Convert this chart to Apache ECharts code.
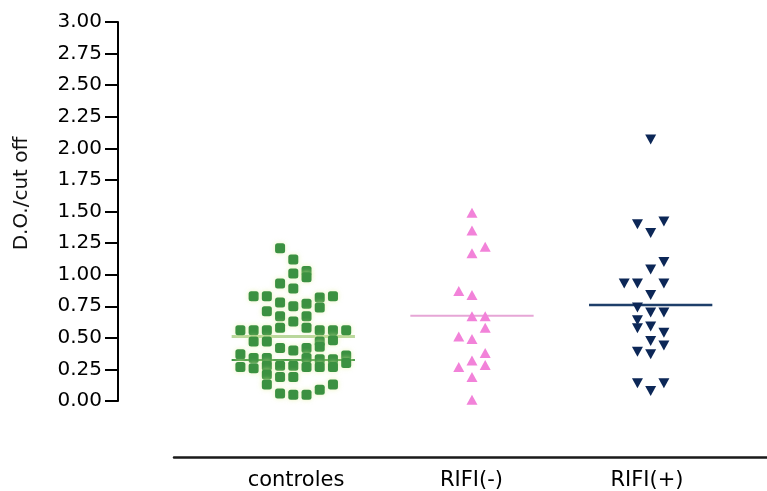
<!DOCTYPE html>
<html>
<head>
<meta charset="utf-8">
<script src="https://cdn.jsdelivr.net/npm/echarts@6/dist/echarts.min.js"></script>
<style>
  html, body { margin: 0; padding: 0; background: #fff; }
  #chart-container { width: 767px; height: 491px; }
</style>
</head>
<body>
<div id="chart-container"></div>
<script>
var categories = ['controles', 'RIFI(-)', 'RIFI(+)'];

// column offset of each point inside its group (dot-plot stacking) and its value
var controlesCols = [-1, 0, 1, 1, 0, -1, 0, -3, -2, 2, 3, -1, 0, 1, 2, -2, -1, 1, 0, -1, 1,
    -4, -3, -2, 2, 3, 4, -3, -2, 2, 3, -1, 0, 1, 2, -4, 4, -3, -2, 1, 2, 3, 4,
    -4, -3, -2, -1, 0, 1, 2, 3, -2, -1, 0, -2, 3, 2, -1, 0, 1];
var controlesValues = [1.21, 1.12, 1.03, 0.98, 1.01, 0.93, 0.89, 0.83, 0.83, 0.82, 0.83, 0.78, 0.75, 0.77, 0.74, 0.71, 0.67, 0.67, 0.63, 0.58, 0.58,
    0.56, 0.56, 0.56, 0.56, 0.56, 0.56, 0.47, 0.47, 0.47, 0.48, 0.42, 0.40, 0.42, 0.43, 0.37, 0.36, 0.34, 0.34, 0.34, 0.33, 0.33, 0.30,
    0.27, 0.26, 0.28, 0.28, 0.28, 0.27, 0.27, 0.27, 0.21, 0.19, 0.19, 0.13, 0.13, 0.09, 0.06, 0.05, 0.05];

var rifiNegCols = [0, 0, 1, 0, -1, 0, 0, 1, 1, -1, 0, 1, 0, -1, 1, 0, 0];
var rifiNegValues = [1.49, 1.35, 1.22, 1.17, 0.87, 0.84, 0.67, 0.67, 0.58, 0.51, 0.49, 0.38, 0.32, 0.27, 0.285, 0.19, 0.01];

var rifiPosCols = [0, -1, 1, 0, 1, 0, -2, -1, 1, 0, -1, 0, 1, -1, -1, 0, 1, 0, 1, -1, 0, -1, 1, 0];
var rifiPosValues = [2.07, 1.40, 1.42, 1.33, 1.10, 1.04, 0.93, 0.93, 0.93, 0.84, 0.74, 0.70, 0.70, 0.64, 0.575, 0.59, 0.54, 0.475, 0.44, 0.39, 0.37, 0.14, 0.14, 0.08];

// horizontal lines drawn across each group
var meanValues = [0.51, 0.675, 0.76];
var controlesLowLine = 0.325;

var yTicks = [0, 3, 0.25];

var colStep = 0.074;
var lineHalf = 0.345;

function points(groupIdx, cols, vals) {
    var out = [];
    for (var i = 0; i < vals.length; i++) {
        out.push([groupIdx + cols[i] * colStep, vals[i]]);
    }
    return out;
}
function hline(groupIdx, v) {
    return [[groupIdx - lineHalf, v], [groupIdx + lineHalf, v]];
}

var font = 'DejaVu Sans';
var myChart = echarts.init(document.getElementById('chart-container'));

var option = {
    animation: false,
    backgroundColor: '#fff',
    grid: [
        { left: 118, right: 0, top: 22, bottom: 90 },
        { left: 174, right: 0, top: 456, height: 1 }
    ],
    xAxis: [
        { type: 'value', gridIndex: 0, min: 0.019, max: 3.651, show: false },
        {
            type: 'value', gridIndex: 1, min: 0.3048, max: 3.684,
            axisLine: { show: true, onZero: false, lineStyle: { color: '#1a1a1a', width: 2.5 } },
            axisTick: { show: false },
            splitLine: { show: false },
            axisLabel: {
                customValues: [1, 2, 3],
                margin: 13,
                fontFamily: font, fontSize: 21, color: '#000',
                formatter: function (v) { return categories[Math.round(v) - 1]; }
            }
        }
    ],
    yAxis: [
        {
            type: 'value', gridIndex: 0, min: yTicks[0], max: yTicks[1], interval: yTicks[2],
            name: 'D.O./cut off', nameLocation: 'middle', nameGap: 86, nameRotate: 90,
            nameTextStyle: { fontFamily: font, fontSize: 20, color: '#111', padding: [0, 0, 0, 36] },
            axisLine: { show: true, lineStyle: { color: '#000', width: 2 } },
            axisTick: { show: true, length: 13, lineStyle: { color: '#000', width: 2 } },
            splitLine: { show: false },
            axisLabel: {
                margin: 16, fontFamily: font, fontSize: 20, color: '#000',
                formatter: function (v) { return v.toFixed(2); }
            }
        },
        { type: 'value', gridIndex: 1, show: false }
    ],
    series: [
        {
            type: 'line', xAxisIndex: 0, yAxisIndex: 0, data: hline(1, meanValues[0]),
            symbol: 'none', lineStyle: { color: '#b9d79c', width: 3 }, z: 1
        },
        {
            type: 'line', xAxisIndex: 0, yAxisIndex: 0, data: hline(1, controlesLowLine),
            symbol: 'none', lineStyle: { color: '#3a9240', width: 2 }, z: 1
        },
        {
            type: 'line', xAxisIndex: 0, yAxisIndex: 0, data: hline(2, meanValues[1]),
            symbol: 'none', lineStyle: { color: '#e6a6d6', width: 2 }, z: 1
        },
        {
            type: 'line', xAxisIndex: 0, yAxisIndex: 0, data: hline(3, meanValues[2]),
            symbol: 'none', lineStyle: { color: '#1e3f6a', width: 2.5 }, z: 1
        },
        {
            name: categories[0], type: 'scatter', xAxisIndex: 0, yAxisIndex: 0,
            data: points(1, controlesCols, controlesValues),
            symbol: 'roundRect', symbolSize: 10,
            itemStyle: { color: '#3b9141', opacity: 1, shadowColor: 'rgba(225,240,160,0.7)', shadowBlur: 5 }, z: 3
        },
        {
            name: categories[1], type: 'scatter', xAxisIndex: 0, yAxisIndex: 0,
            data: points(2, rifiNegCols, rifiNegValues),
            symbol: 'triangle', symbolSize: [11, 10],
            itemStyle: { color: '#f282d9', opacity: 1 }, z: 3
        },
        {
            name: categories[2], type: 'scatter', xAxisIndex: 0, yAxisIndex: 0,
            data: points(3, rifiPosCols, rifiPosValues),
            symbol: 'triangle', symbolSize: [11, 10], symbolRotate: 180,
            itemStyle: { color: '#0c2757', opacity: 1 }, z: 3
        }
    ]
};

myChart.setOption(option);
</script>
</body>
</html>
